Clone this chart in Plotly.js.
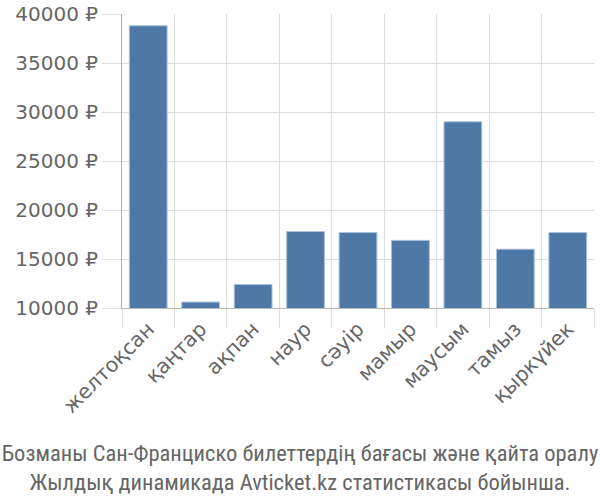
<!DOCTYPE html>
<html>
<head>
<meta charset="utf-8">
<script src="https://cdn.plot.ly/plotly-3.0.1.min.js"></script>
<style>html,body{margin:0;padding:0;background:#fff;}#chart{width:600px;height:500px;}
#chart .gtitle{font-stretch:condensed !important;}</style>
</head>
<body>
<div id="chart"></div>
<script>
const months = ["желтоқсан", "қаңтар", "ақпан", "наур", "сәуір", "мамыр", "маусым", "тамыз", "қыркүйек"];
const prices = [38800, 10600, 12400, 17800, 17700, 16900, 29000, 16000, 17700];
const yTicks = [10000, 15000, 20000, 25000, 30000, 35000, 40000];
const yTickLabels = ["10000 ₽", "15000 ₽", "20000 ₽", "25000 ₽", "30000 ₽", "35000 ₽", "40000 ₽"];
const titleText = "Бозманы Сан-Франциско билеттердің бағасы және қайта оралу<br>Жылдық динамикада Avticket.kz статистикасы бойынша.";

Plotly.newPlot('chart', [{
  type: 'bar',
  x: months,
  y: prices,
  marker: {color: '#4e78a6', line: {color: '#a9c0da', width: 1}},
  hoverinfo: 'none'
}], {
  width: 600, height: 500,
  margin: {l: 122, r: 6, t: 14, b: 192},
  paper_bgcolor: '#fff', plot_bgcolor: '#fff',
  bargap: 0.28,
  showlegend: false,
  font: {family: 'DejaVu Sans, sans-serif', color: '#666'},
  title: {
    text: titleText,
    font: {family: 'Roboto, sans-serif', size: 22.5, color: '#666'},
    x: 0.5, xanchor: 'center',
    yref: 'container', y: 0.078, yanchor: 'middle'
  },
  xaxis: {
    type: 'category',
    tickson: 'boundaries',
    ticks: 'outside', ticklen: 19, tickcolor: '#ddd', tickwidth: 1,
    showgrid: true, gridcolor: '#ddd', gridwidth: 1,
    showline: true, linecolor: '#bbb', linewidth: 1,
    tickangle: -45,
    tickfont: {family: 'DejaVu Sans, sans-serif', size: 20.5, color: '#666'}
  },
  yaxis: {
    range: [10000, 40000],
    tickvals: yTicks, ticktext: yTickLabels,
    ticks: 'outside', ticklen: 19, tickcolor: '#ddd', tickwidth: 1,
    showgrid: true, gridcolor: '#ddd', gridwidth: 1,
    showline: true, linecolor: '#aaa', linewidth: 1,
    zeroline: false,
    tickfont: {family: 'DejaVu Sans, sans-serif', size: 20, color: '#666'}
  }
}, {displayModeBar: false, staticPlot: true});
</script>
</body>
</html>
